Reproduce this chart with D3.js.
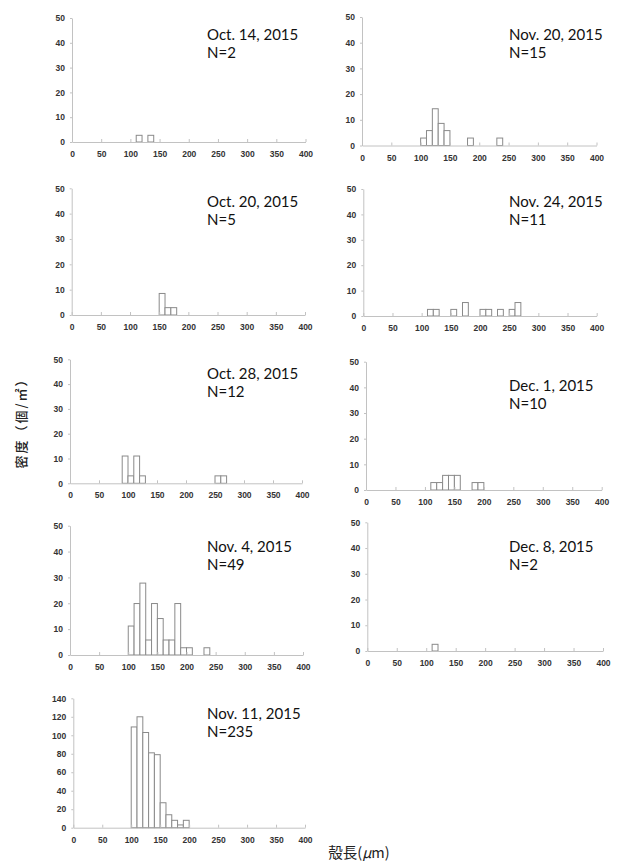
<!DOCTYPE html>
<html>
<head>
<meta charset="utf-8">
<script src="https://cdn.jsdelivr.net/npm/d3@7"></script>
<style>
  html, body { margin: 0; padding: 0; background: #fff; }
  svg { display: block; }
</style>
</head>
<body>
<svg id="chart" width="621" height="863"></svg>
<script>
// Shell-length histograms: density (ind./m²) per 10 µm size class.
// Each entry is [class lower bound (µm), density].
const oct14 = [[110, 2.7], [130, 2.7]];
const nov20 = [[100, 2.9], [110, 5.8], [120, 14.3], [130, 8.6], [140, 5.8], [180, 2.9], [230, 2.9]];
const oct20 = [[150, 8.5], [160, 2.9], [170, 2.9]];
const nov24 = [[110, 2.6], [120, 2.6], [150, 2.6], [170, 5.3], [200, 2.6], [210, 2.6], [230, 2.6], [250, 2.6], [260, 5.3]];
const oct28 = [[90, 11.0], [100, 3.0], [110, 11.0], [120, 3.0], [250, 3.0], [260, 3.0]];
const dec1  = [[110, 2.9], [120, 2.9], [130, 5.7], [140, 5.7], [150, 5.7], [180, 2.9], [190, 2.9]];
const nov4  = [[100, 11.2], [110, 19.9], [120, 27.8], [130, 5.8], [140, 19.9], [150, 14.1], [160, 5.8], [170, 5.8], [180, 19.9], [190, 2.8], [200, 2.8], [230, 2.8]];
const dec8  = [[110, 2.6]];
const nov11 = [[100, 109], [110, 120], [120, 103], [130, 81], [140, 79], [150, 27], [160, 14], [170, 8], [180, 3], [190, 8]];

const sampleDates = ["Oct. 14, 2015", "Nov. 20, 2015", "Oct. 20, 2015", "Nov. 24, 2015",
                     "Oct. 28, 2015", "Dec. 1, 2015", "Nov. 4, 2015", "Dec. 8, 2015", "Nov. 11, 2015"];
const sampleN = [2, 15, 5, 11, 12, 10, 49, 2, 235];
const series = [oct14, nov20, oct20, nov24, oct28, dec1, nov4, dec8, nov11];
const yMaxes = [50, 50, 50, 50, 50, 50, 50, 50, 140];
const yStep = [10, 10, 10, 10, 10, 10, 10, 10, 20];
const xTicks = [0, 50, 100, 150, 200, 250, 300, 350, 400];
const binWidth = 10;

const yTitle = "密度（個/㎡）";
const xTitle = "殻長";

// Panel frames (pixel geometry of each small chart) and label anchors.
const frames = [
  { x0: 72.0,  x1: 305.5, top: 18.0,  bottom: 142.0, tx: 207, ty: 40 },
  { x0: 362.0, x1: 596.5, top: 17.0,  bottom: 145.5, tx: 509, ty: 40 },
  { x0: 71.7,  x1: 305.0, top: 188.3, bottom: 315.0, tx: 207, ty: 206.5 },
  { x0: 363.3, x1: 596.7, top: 189.0, bottom: 316.0, tx: 509, ty: 207 },
  { x0: 70.0,  x1: 302.0, top: 359.3, bottom: 483.3, tx: 207, ty: 378.5 },
  { x0: 366.0, x1: 601.7, top: 361.7, bottom: 490.0, tx: 509, ty: 390.5 },
  { x0: 70.0,  x1: 303.0, top: 525.7, bottom: 655.0, tx: 207, ty: 551.5 },
  { x0: 367.3, x1: 603.0, top: 522.3, bottom: 651.0, tx: 509, ty: 551.5 },
  { x0: 73.3,  x1: 305.0, top: 698.3, bottom: 827.7, tx: 207, ty: 718.5 }
];

const svg = d3.select("#chart");
const tickFont = "'Liberation Sans', Arial, sans-serif";
const titleFont = "Lato, 'Open Sans', sans-serif";
const cjkFont = "'Noto Sans CJK JP', 'Noto Sans CJK SC', sans-serif";

series.forEach((data, i) => {
  const f = frames[i];
  const x = d3.scaleLinear().domain([0, 400]).range([f.x0, f.x1]);
  const y = d3.scaleLinear().domain([0, yMaxes[i]]).range([f.bottom, f.top]);
  const g = svg.append("g");

  // bars
  g.append("g").selectAll("rect")
    .data(data)
    .join("rect")
    .attr("x", d => x(d[0]))
    .attr("y", d => y(d[1]))
    .attr("width", d => x(d[0] + binWidth) - x(d[0]))
    .attr("height", d => y(0) - y(d[1]))
    .attr("fill", "#fff")
    .attr("stroke", "#8a8a8a")
    .attr("stroke-width", 1);

  // x axis
  const xa = g.append("g")
    .attr("transform", `translate(0,${f.bottom})`)
    .call(d3.axisBottom(x).tickValues(xTicks).tickSizeInner(-3).tickSizeOuter(0).tickPadding(9));
  // y axis
  const ya = g.append("g")
    .attr("transform", `translate(${f.x0},0)`)
    .call(d3.axisLeft(y).tickValues(d3.range(0, yMaxes[i] + 1, yStep[i])).tickSizeInner(2).tickSizeOuter(0).tickPadding(5));

  [xa, ya].forEach(a => {
    a.select(".domain").attr("stroke", "#c2c2c2");
    a.selectAll(".tick line").attr("stroke", "#c2c2c2");
    a.selectAll(".tick text")
      .attr("fill", "#333")
      .style("font-family", tickFont)
      .style("font-size", "8.5px")
      .style("font-weight", "bold");
  });

  // sample date and count
  g.append("text")
    .attr("x", f.tx).attr("y", f.ty)
    .style("font-family", titleFont).style("font-size", "15px")
    .attr("fill", "#111")
    .text(sampleDates[i]);
  g.append("text")
    .attr("x", f.tx).attr("y", f.ty + 18)
    .style("font-family", titleFont).style("font-size", "15px")
    .attr("fill", "#111")
    .text("N=" + sampleN[i]);
});

// shared axis titles
svg.append("text")
  .attr("transform", "translate(26,420) rotate(-90)")
  .attr("text-anchor", "middle")
  .style("font-family", cjkFont)
  .style("font-size", "13px")
  .style("font-weight", "500")
  .style("letter-spacing", "2px")
  .attr("fill", "#222")
  .text(yTitle);

const xt = svg.append("text")
  .attr("x", 359).attr("y", 858)
  .attr("text-anchor", "middle")
  .style("font-family", cjkFont)
  .style("font-size", "14.5px")
  .attr("fill", "#222");
xt.append("tspan").text(xTitle + "(");
xt.append("tspan").style("font-style", "italic").text("μ");
xt.append("tspan").text("m)");
</script>
</body>
</html>
